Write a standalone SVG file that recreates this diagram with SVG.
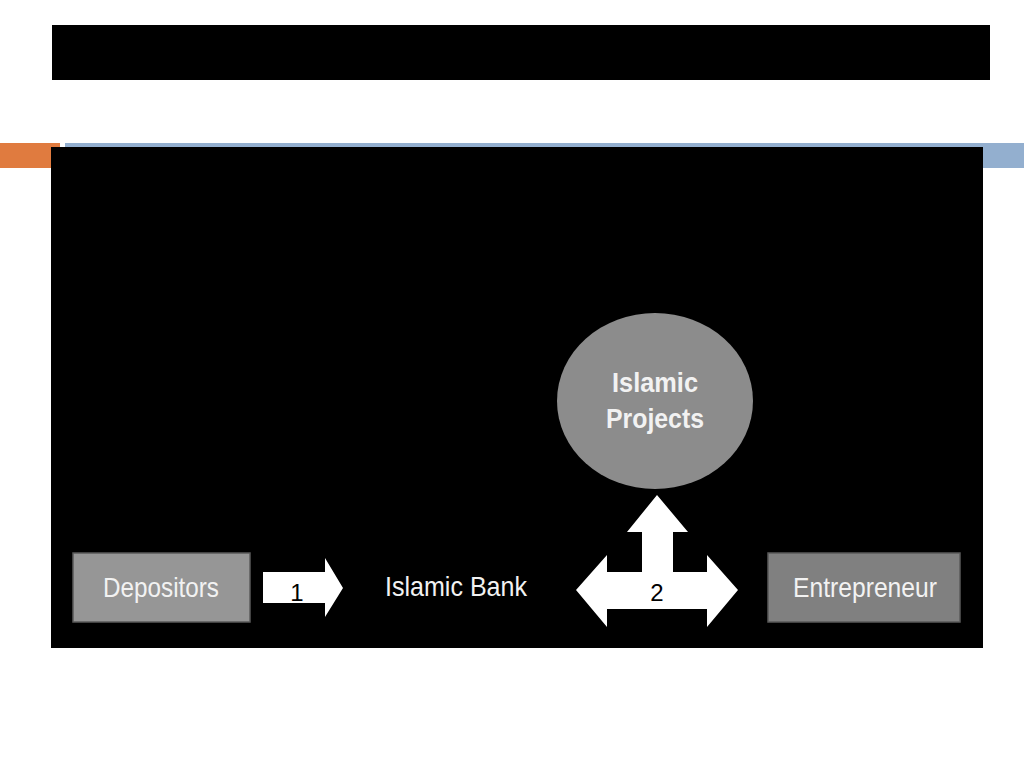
<svg xmlns="http://www.w3.org/2000/svg" width="1024" height="768" viewBox="0 0 1024 768">
<style>
.lbl{font-family:"Liberation Sans",Arial,sans-serif;fill:#f2f2f2;text-anchor:start}
.num{font-family:"Liberation Sans",Arial,sans-serif;fill:#000;font-size:24px;text-anchor:middle}
.box{stroke:#5a5a5a;stroke-width:1.5}
.arrow{fill:#fff}
</style>
<rect width="1024" height="768" fill="#fff"/>
<rect x="52" y="25" width="938" height="55" fill="#000"/>
<rect x="0" y="143" width="60" height="25" fill="#e07b3f"/>
<rect x="65" y="143" width="959" height="25" fill="#93afcf"/>
<rect x="51" y="147" width="932" height="501" fill="#000"/>
<g id="connectors">
<path class="arrow" d="M263,572 H325 V558 L343,588 L325,617 V603 H263 Z"/>
<text class="num" x="297" y="601">1</text>
<path class="arrow" d="M657,495 L688,532 H673 V572 H707 V555 L738,590 L707,627 V609 H607 V627 L576,590 L607,555 V572 H642 V532 H627 Z"/>
<text class="num" x="657" y="601">2</text>
</g>
<g id="depositors">
<rect class="box" x="73" y="553" width="177" height="69" fill="#969696"/>
<text class="lbl" x="103" y="597" font-size="28" textLength="116" lengthAdjust="spacingAndGlyphs">Depositors</text>
</g>
<g id="islamic-bank">
<text class="lbl" x="385" y="596" font-size="28" textLength="142" lengthAdjust="spacingAndGlyphs">Islamic Bank</text>
</g>
<g id="entrepreneur">
<rect class="box" x="768" y="553" width="192" height="69" fill="#808080"/>
<text class="lbl" x="793" y="597" font-size="28" textLength="144" lengthAdjust="spacingAndGlyphs">Entrepreneur</text>
</g>
<g id="islamic-projects">
<ellipse cx="655" cy="401" rx="98" ry="88" fill="#8c8c8c"/>
<text class="lbl" x="612" y="392" font-size="27" font-weight="bold" textLength="86" lengthAdjust="spacingAndGlyphs">Islamic</text>
<text class="lbl" x="606" y="428" font-size="27" font-weight="bold" textLength="98" lengthAdjust="spacingAndGlyphs">Projects</text>
</g>
</svg>
